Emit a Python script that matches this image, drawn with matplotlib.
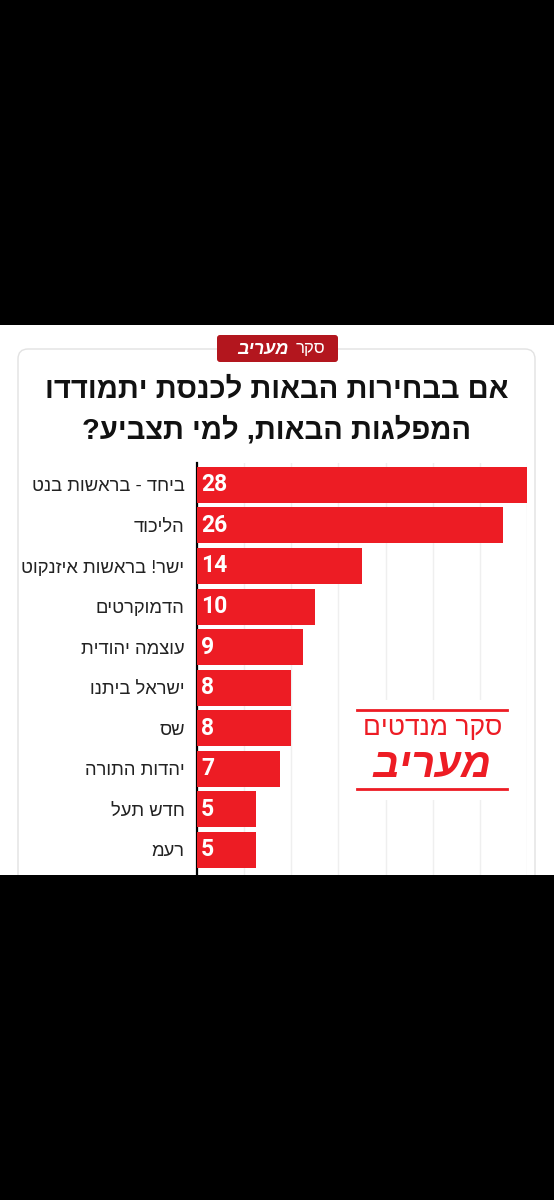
import matplotlib.pyplot as plt
from matplotlib.patches import FancyBboxPatch, Rectangle

# poll data (Maariv seat poll)
parties = ['ביחד - בראשות בנט', 'הליכוד', 'ישר! בראשות איזנקוט', 'הדמוקרטים',
           'עוצמה יהודית', 'ישראל ביתנו', 'שס', 'יהדות התורה', 'חדש תעל', 'רעמ']
seats = [28, 26, 14, 10, 9, 8, 8, 7, 5, 5]
title_lines = ['אם בבחירות הבאות לכנסת יתמודדו', 'המפלגות הבאות, למי תצביע?']
badge_words = ['סקר', 'מעריב']
logo_words = ['סקר מנדטים', 'מעריב']

RED = '#ED1C24'
DARK_RED = '#B3161E'
HEB = ['Liberation Sans', 'DejaVu Sans']
HEB_NARROW = ['Liberation Sans Narrow', 'Liberation Sans', 'DejaVu Sans']


def rtl(s):
    # matplotlib has no bidi support, so lay hebrew out in visual order
    return s[::-1]


W, H = 554, 1200
fig = plt.figure(figsize=(W / 100, H / 100), dpi=100, facecolor='black')

# white panel + card outline (pixel coordinates)
bg = fig.add_axes([0, 1 - 875 / H, 1, 550 / H])
bg.set_xlim(0, W)
bg.set_ylim(875, 325)
bg.axis('off')
bg.add_patch(Rectangle((0, 325), W, 550, facecolor='white', edgecolor='none'))
bg.add_patch(FancyBboxPatch((18, 349), 517, 600, boxstyle='round,pad=0,rounding_size=10',
                            facecolor='white', edgecolor='#e2e2e2', linewidth=1))

# bar chart
x0, x1 = 197, 527
ytop, ybot = 463, 875
ax = fig.add_axes([x0 / W, 1 - ybot / H, (x1 - x0) / W, (ybot - ytop) / H])
ax.set_facecolor('none')
ypos = list(range(len(parties)))
ax.barh(ypos, seats, height=0.89, color=RED, zorder=3)
ax.set_xlim(0, 28)
ax.set_ylim(9.62, -0.54)
ax.set_xticks(range(0, 29, 4))
ax.xaxis.grid(True, color='#efefef', linewidth=1, zorder=0)
ax.tick_params(axis='x', length=0, labelbottom=False)
ax.set_yticks(ypos)
ax.set_yticklabels([rtl(p) for p in parties], family=HEB, fontsize=13.2, color='#222222')
ax.tick_params(axis='y', length=0, pad=9)
for s in ['top', 'right', 'bottom']:
    ax.spines[s].set_visible(False)
ax.spines['left'].set_linewidth(1.6)
ax.spines['left'].set_color('black')
for y, v in zip(ypos, seats):
    ax.text(0.35, y, str(v), color='white', fontsize=16.5, fontweight='bold',
            family=['Roboto', 'DejaVu Sans'], va='center', ha='left', zorder=4)

# overlay for title, badge and logo
ov = fig.add_axes([0, 0, 1, 1])
ov.set_xlim(0, W)
ov.set_ylim(H, 0)
ov.set_facecolor('none')
ov.axis('off')

ov.add_patch(FancyBboxPatch((217, 335), 121, 27, boxstyle='round,pad=0,rounding_size=3',
                            facecolor=DARK_RED, edgecolor='none'))
ov.text(325, 349, rtl(badge_words[0]), color='white', fontsize=12, family=HEB,
        ha='right', va='center')
ov.text(289, 349, rtl(badge_words[1]), color='white', fontsize=13, family=HEB,
        fontweight='bold', style='italic', ha='right', va='center')

ov.text(277, 390, rtl(title_lines[0]), fontsize=21, fontweight='bold', family=HEB_NARROW,
        ha='center', va='center', color='#111111')
ov.text(277, 430, rtl(title_lines[1]), fontsize=21, fontweight='bold', family=HEB_NARROW,
        ha='center', va='center', color='#111111')

ov.add_patch(Rectangle((352, 700), 160, 100, facecolor='white', edgecolor='none'))
ov.plot([357, 507], [710, 710], color=RED, linewidth=2)
ov.plot([357, 507], [789, 789], color=RED, linewidth=2)
ov.text(433, 728, rtl(logo_words[0]), color=RED, fontsize=19, family=HEB_NARROW,
        ha='center', va='center')
ov.text(432, 766, rtl(logo_words[1]), color=RED, fontsize=30, family=HEB,
        fontweight='bold', style='italic', ha='center', va='center')

fig.savefig('out.png', dpi=100, facecolor='black')
